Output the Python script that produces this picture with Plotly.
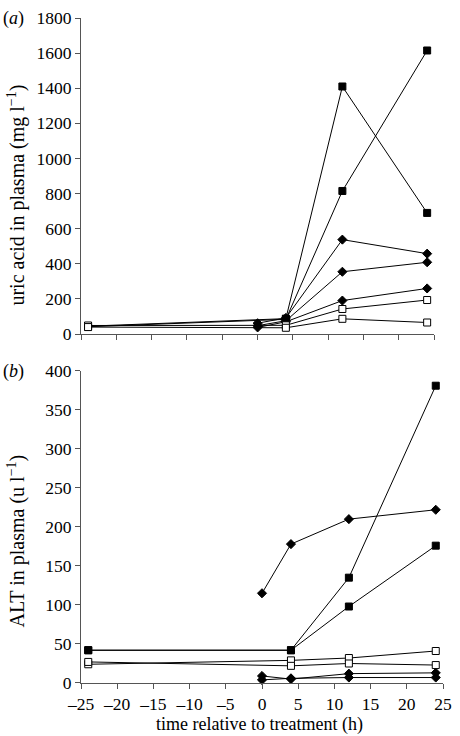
import plotly.graph_objects as go

# ---------------- data ----------------
# (a) uric acid in plasma (mg l-1)
uric_sqA_t = [-24, 4, 12, 24]
uric_sqA = [45, 88, 1410, 690]
uric_sqB_t = [-24, 4, 12, 24]
uric_sqB = [42, 84, 815, 1615]
uric_dA_t = [0, 4, 12, 24]
uric_dA = [62, 92, 538, 458]
uric_dB_t = [0, 4, 12, 24]
uric_dB = [48, 76, 355, 409]
uric_dC_t = [0, 4, 12, 24]
uric_dC = [38, 70, 191, 260]
uric_oA_t = [-24, 4, 12, 24]
uric_oA = [49, 50, 143, 194]
uric_oB_t = [-24, 4, 12, 24]
uric_oB = [40, 36, 87, 66]

# (b) ALT in plasma (u l-1)
alt_sqA_t = [-24, 4, 12, 24]
alt_sqA = [42, 42, 135, 381]
alt_sqB_t = [-24, 4, 12, 24]
alt_sqB = [42, 42, 98, 176]
alt_dA_t = [0, 4, 12, 24]
alt_dA = [115, 178, 210, 222]
alt_dB_t = [0, 4, 12, 24]
alt_dB = [9, 5, 12, 13]
alt_dC_t = [0, 4, 12, 24]
alt_dC = [4, 6, 7, 7]
alt_oA_t = [-24, 4, 12, 24]
alt_oA = [24, 29, 32, 41]
alt_oB_t = [-24, 4, 12, 24]
alt_oB = [27, 22, 25, 23]

x_tickvals = [-25, -20, -15, -10, -5, 0, 5, 10, 15, 20, 25]
x_ticktext = ["\u201325", "\u201320", "\u201315", "\u201310", "\u20135", "0", "5", "10", "15", "20", "25"]
uric_ticks = [0, 200, 400, 600, 800, 1000, 1200, 1400, 1600, 1800]
alt_ticks = [0, 50, 100, 150, 200, 250, 300, 350, 400]

FONT = "Liberation Serif"
AX = "#555555"

fig = go.Figure()

filled_sq = dict(symbol="square", size=7, color="black", line=dict(color="black", width=1))
diamond = dict(symbol="diamond", size=7, color="black", line=dict(color="black", width=1))
open_sq = dict(symbol="square", size=7, color="white", line=dict(color="black", width=1))
line = dict(color="black", width=1)


def add(t, v, marker, xa, ya):
    fig.add_trace(go.Scatter(x=t, y=v, mode="lines+markers", marker=marker, line=line,
                             xaxis=xa, yaxis=ya, cliponaxis=False, showlegend=False,
                             hoverinfo="x+y"))


# panel (a)
add(uric_sqA_t, uric_sqA, filled_sq, "x", "y")
add(uric_sqB_t, uric_sqB, filled_sq, "x", "y")
add(uric_dA_t, uric_dA, diamond, "x", "y")
add(uric_dB_t, uric_dB, diamond, "x", "y")
add(uric_dC_t, uric_dC, diamond, "x", "y")
add(uric_oA_t, uric_oA, open_sq, "x", "y")
add(uric_oB_t, uric_oB, open_sq, "x", "y")

# panel (b)
add(alt_sqA_t, alt_sqA, filled_sq, "x2", "y2")
add(alt_sqB_t, alt_sqB, filled_sq, "x2", "y2")
add(alt_dA_t, alt_dA, diamond, "x2", "y2")
add(alt_dB_t, alt_dB, diamond, "x2", "y2")
add(alt_dC_t, alt_dC, diamond, "x2", "y2")
add(alt_oA_t, alt_oA, open_sq, "x2", "y2")
add(alt_oB_t, alt_oB, open_sq, "x2", "y2")

W, H = 460, 736
L, T = 81, 14
R = W - 452
B = H - 683
pw = W - L - R
ph = H - T - B


def px_x(px):
    return (px - L) / pw


def px_y(py):
    return (H - B - py) / ph


axis_common = dict(showline=True, linecolor=AX, linewidth=1, ticks="outside", ticklen=5,
                   tickcolor=AX, tickwidth=1, showgrid=False, zeroline=False,
                   tickfont=dict(family=FONT, size=17.5, color="black"))

fig.update_layout(
    width=W, height=H,
    margin=dict(l=L, r=R, t=T, b=B, pad=0),
    paper_bgcolor="white", plot_bgcolor="white",
    font=dict(family=FONT, color="black", size=18),
    xaxis=dict(domain=[0, px_x(443)], range=[-25, 25], anchor="y",
               tickvals=x_tickvals, showticklabels=False, **axis_common),
    yaxis=dict(domain=[px_y(332), 1], range=[0, 1800], anchor="x",
               tickvals=uric_ticks, **axis_common),
    xaxis2=dict(domain=[0, 1], range=[-25, 25], anchor="y2",
                tickvals=x_tickvals, ticktext=x_ticktext, ticklabeloverflow="allow",
                **axis_common),
    yaxis2=dict(domain=[0, px_y(369)], range=[0, 400], anchor="x2",
                tickvals=alt_ticks, **axis_common),
)

ann_font = dict(family=FONT, size=20, color="black")
fig.add_annotation(text="uric acid in plasma (mg l<sup>\u22121</sup>)", textangle=-90,
                   xref="paper", yref="paper", x=px_x(15), y=px_y(192),
                   xanchor="center", yanchor="middle", showarrow=False, font=ann_font)
fig.add_annotation(text="ALT in plasma (u l<sup>\u22121</sup>)", textangle=-90,
                   xref="paper", yref="paper", x=px_x(15), y=px_y(540),
                   xanchor="center", yanchor="middle", showarrow=False, font=ann_font)
fig.add_annotation(text="time relative to treatment (h)",
                   xref="paper", yref="paper", x=px_x(264), y=px_y(725),
                   xanchor="center", yanchor="middle", showarrow=False,
                   font=dict(family=FONT, size=18, color="black"))
fig.add_annotation(text="(<i>a</i>)", xref="paper", yref="paper", x=px_x(12), y=px_y(15),
                   xanchor="center", yanchor="middle", showarrow=False,
                   font=dict(family=FONT, size=18, color="black"))
fig.add_annotation(text="(<i>b</i>)", xref="paper", yref="paper", x=px_x(12), y=px_y(370),
                   xanchor="center", yanchor="middle", showarrow=False,
                   font=dict(family=FONT, size=18, color="black"))

fig.write_html("out.html", config={"displayModeBar": False},
               post_script="document.body.style.margin='0';document.body.style.padding='0';")
